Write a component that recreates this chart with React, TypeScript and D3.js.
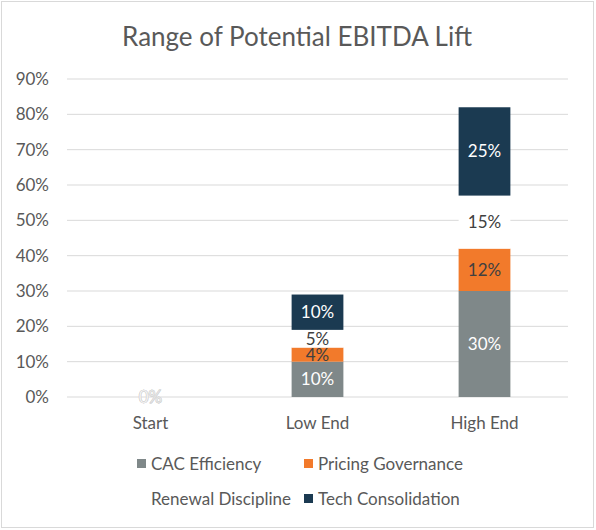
import React from 'react'
import * as d3 from 'd3'

const categories = ['Start', 'Low End', 'High End']
const seriesNames = ['CAC Efficiency', 'Pricing Governance', 'Renewal Discipline', 'Tech Consolidation']
const cacEfficiency = [0, 0.1, 0.3]
const pricingGovernance = [0, 0.04, 0.12]
const renewalDiscipline = [0, 0.05, 0.15]
const techConsolidation = [0, 0.1, 0.25]
const yTicks = [0, 0.1, 0.2, 0.3, 0.4, 0.5, 0.6, 0.7, 0.8, 0.9]

const colors = ['#7f8889', '#f27a2b', '#ffffff', '#1b3a51']
const labelColors = ['#ffffff', '#404040', '#404040', '#ffffff']

const width = 596
const height = 530
const font = 'Lato, "Open Sans", sans-serif'
const textGray = '#595959'

export default function App() {
  const x = d3
    .scaleBand<string>()
    .domain(categories)
    .range([67, 568])
    .paddingInner(0.69)
    .paddingOuter(0.345)

  const y = d3.scaleLinear().domain([0, 0.9]).range([397, 79])

  const rows = categories.map((c, i) => ({
    category: c,
    'CAC Efficiency': cacEfficiency[i],
    'Pricing Governance': pricingGovernance[i],
    'Renewal Discipline': renewalDiscipline[i],
    'Tech Consolidation': techConsolidation[i],
  }))

  const stack = d3.stack<any>().keys(seriesNames)
  const layers = stack(rows)
  const fmt = d3.format('.0%')

  return (
    <svg
      width={width}
      height={height}
      style={{ position: 'absolute', left: 0, top: 0, fontFamily: font }}
    >
      <rect x={0} y={0} width={width} height={height} fill="#fff" />
      <rect x={1.5} y={1.5} width={592} height={526} fill="none" stroke="#d9d9d9" />

      <text x={297} y={46} textAnchor="middle" fontSize={26} fill={textGray}>
        Range of Potential EBITDA Lift
      </text>

      {yTicks.map(t => (
        <g key={t}>
          <line x1={67} x2={568} y1={y(t)} y2={y(t)} stroke="#d9d9d9" strokeWidth={1} />
          <text x={49} y={y(t)} dy="0.35em" textAnchor="end" fontSize={17} fill={textGray}>
            {fmt(t)}
          </text>
        </g>
      ))}

      {layers.map((layer, li) =>
        layer.map((d, i) => {
          const cat = categories[i]
          const x0 = x(cat) as number
          const h = y(d[0]) - y(d[1])
          return (
            <rect
              key={`${li}-${cat}`}
              x={x0}
              y={y(d[1])}
              width={x.bandwidth()}
              height={Math.max(0, h)}
              fill={colors[li]}
            />
          )
        })
      )}

      {layers.map((layer, li) =>
        layer.map((d, i) => {
          const cat = categories[i]
          const cx = (x(cat) as number) + x.bandwidth() / 2
          const cy = (y(d[0]) + y(d[1])) / 2
          const v = d[1] - d[0]
          const zero = v === 0
          return (
            <text
              key={`l-${li}-${cat}`}
              x={cx}
              y={cy}
              dy="0.35em"
              textAnchor="middle"
              fontSize={17}
              fill={zero ? '#ffffff' : labelColors[li]}
              stroke={zero ? '#cfcfcf' : 'none'}
              strokeWidth={zero ? 0.5 : 0}
            >
              {fmt(v)}
            </text>
          )
        })
      )}

      {categories.map(c => (
        <text
          key={c}
          x={(x(c) as number) + x.bandwidth() / 2}
          y={429}
          textAnchor="middle"
          fontSize={17}
          fill={textGray}
        >
          {c}
        </text>
      ))}

      {seriesNames.map((s, i) => {
        const lx = i % 2 === 0 ? 137 : 304
        const ly = i < 2 ? 464 : 499
        return (
          <g key={s}>
            <rect x={lx} y={ly - 5} width={9} height={9} fill={colors[i]} />
            <text x={lx + 14} y={ly} dy="0.35em" fontSize={17} fill={textGray}>
              {s}
            </text>
          </g>
        )
      })}
    </svg>
  )
}
